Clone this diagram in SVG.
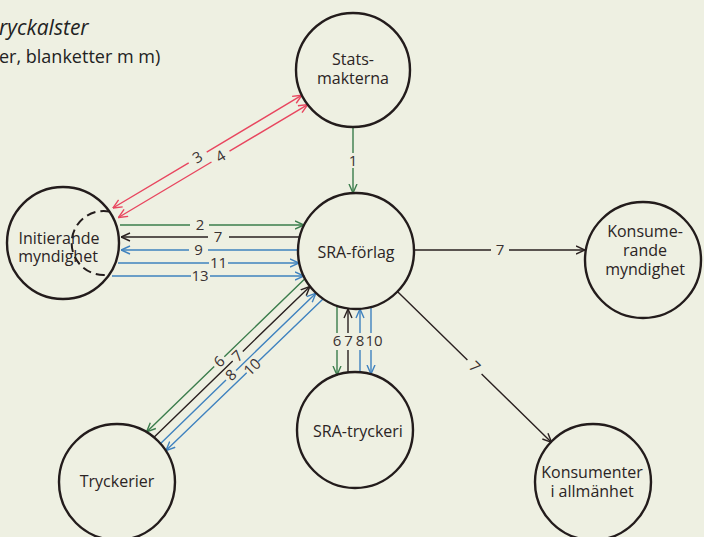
<svg xmlns="http://www.w3.org/2000/svg" width="704" height="537" viewBox="0 0 704 537">
<style>
  .bg { fill: #eef0e2; }
  .node { fill: none; stroke: #231c1c; stroke-width: 2.4; }
  .lbl { font-family: "Open Sans", "Noto Sans", sans-serif; font-size: 16px; fill: #2b2424; text-anchor: middle; }
  .num { font-family: "Open Sans", "Noto Sans", sans-serif; font-size: 15px; fill: #3a3232; text-anchor: middle; }
  .title { font-family: "Open Sans", "Noto Sans", sans-serif; fill: #222; }
  .c { fill: none; stroke-width: 1.4; }
  .green { stroke: #3b7d4c; }
  .black { stroke: #2a2020; }
  .blue { stroke: #3f82bf; }
  .red { stroke: #e8465f; }
  .dash { fill: none; stroke: #231c1c; stroke-width: 2; stroke-dasharray: 9 5; }
</style>
<defs>
  <marker id="ag" viewBox="0 0 10 10" refX="9.5" refY="5" markerWidth="10" markerHeight="10" markerUnits="userSpaceOnUse" orient="auto-start-reverse"><path d="M0.5,1 L9.5,5 L0.5,9" fill="none" stroke="#3b7d4c" stroke-width="1.4"/></marker>
  <marker id="ak" viewBox="0 0 10 10" refX="9.5" refY="5" markerWidth="10" markerHeight="10" markerUnits="userSpaceOnUse" orient="auto-start-reverse"><path d="M0.5,1 L9.5,5 L0.5,9" fill="none" stroke="#2a2020" stroke-width="1.4"/></marker>
  <marker id="ab" viewBox="0 0 10 10" refX="9.5" refY="5" markerWidth="10" markerHeight="10" markerUnits="userSpaceOnUse" orient="auto-start-reverse"><path d="M0.5,1 L9.5,5 L0.5,9" fill="none" stroke="#3f82bf" stroke-width="1.4"/></marker>
  <marker id="ar" viewBox="0 0 10 10" refX="9.5" refY="5" markerWidth="10" markerHeight="10" markerUnits="userSpaceOnUse" orient="auto-start-reverse"><path d="M0.5,1 L9.5,5 L0.5,9" fill="none" stroke="#e8465f" stroke-width="1.4"/></marker>
</defs>
<rect class="bg" x="0" y="0" width="704" height="537"/>

<g id="title">
  <text class="title" x="-1" y="35" font-size="21" font-style="italic" font-weight="500">ryckalster</text>
  <text class="title" x="-1" y="63" font-size="18" font-weight="500">er, blanketter m m)</text>
</g>

<g id="connectors">
  <path class="c green" d="M353,127 L353,153 M353,168 L353,193" marker-end="url(#ag)"/>
  <text class="num" x="353" y="166">1</text>
  <path class="c red" d="M112.9,208 L188.7,162.8 M206.7,152.1 L301.9,95.2" marker-start="url(#ar)" marker-end="url(#ar)"/>
  <path class="c red" d="M118.4,217.5 L211.5,162 M229.5,151.2 L307.7,104.6" marker-start="url(#ar)" marker-end="url(#ar)"/>
  <text class="num" transform="translate(197.7,157.4) rotate(-30.8)" x="0" y="5">3</text>
  <text class="num" transform="translate(220.5,156.6) rotate(-30.8)" x="0" y="5">4</text>
  <path class="c green" d="M120,225 L190,225 M209,225 L304,225" marker-end="url(#ag)"/>
  <text class="num" x="200" y="230">2</text>
  <path class="c black" d="M300,237 L229,237 M208,237 L121,237" marker-end="url(#ak)"/>
  <text class="num" x="218" y="242">7</text>
  <path class="c blue" d="M298,250 L208,250 M189,250 L121,250" marker-end="url(#ab)"/>
  <text class="num" x="198.5" y="255">9</text>
  <path class="c blue" d="M118,263 L209,263 M228,263 L299,263" marker-end="url(#ab)"/>
  <text class="num" x="218.5" y="268">11</text>
  <path class="c blue" d="M112,276 L191,276 M210,276 L304,276" marker-end="url(#ab)"/>
  <text class="num" x="200" y="281">13</text>
  <path class="c black" d="M414,250 L491,250 M509,250 L585,250" marker-end="url(#ak)"/>
  <text class="num" x="500" y="255">7</text>
  <path class="c black" d="M397.4,291.6 L467.4,360 M481.6,374 L551.6,442.4" marker-end="url(#ak)"/>
  <text class="num" transform="translate(474.5,367) rotate(44.4)" x="0" y="5">7</text>
  <path class="c green" d="M304.9,278.8 L224.3,356.8 M214.2,366.5 L146.6,431.9" marker-end="url(#ag)"/>
  <path class="c black" d="M154,437.2 L232.7,361.1 M242.8,351.4 L309.9,286.5" marker-end="url(#ak)"/>
  <path class="c blue" d="M160.6,443.4 L226,380.1 M236.1,370.4 L315.9,293.2" marker-end="url(#ab)"/>
  <path class="c blue" d="M323,298.9 L258.2,361.6 M246.7,372.7 L166,450.6" marker-end="url(#ab)"/>
  <text class="num" transform="translate(219.3,361.6) rotate(-44)" x="0" y="5">6</text>
  <text class="num" transform="translate(237.7,356.3) rotate(-44)" x="0" y="5">7</text>
  <text class="num" transform="translate(231.1,375.3) rotate(-44)" x="0" y="5">8</text>
  <text class="num" transform="translate(252.4,367.1) rotate(-44)" x="0" y="5">10</text>
  <path class="c green" d="M337,306 L337,333 M337,350 L337,375" marker-end="url(#ag)"/>
  <path class="c black" d="M348,372 L348,350 M348,333 L348,309" marker-end="url(#ak)"/>
  <path class="c blue" d="M360,372 L360,350 M360,333 L360,309" marker-end="url(#ab)"/>
  <path class="c blue" d="M371,307 L371,333 M371,350 L371,374" marker-end="url(#ab)"/>
  <text class="num" x="337" y="346">6</text>
  <text class="num" x="348.5" y="346">7</text>
  <text class="num" x="360" y="346">8</text>
  <text class="num" x="374" y="346">10</text>
</g>

<g id="statsmakterna">
  <circle class="node" cx="353" cy="70" r="57"/>
  <text class="lbl" x="353" y="65" font-size="15">Stats-</text>
  <text class="lbl" x="353" y="84" font-size="15">makterna</text>
</g>
<g id="initierande">
  <circle class="node" cx="63" cy="243" r="56"/>
  <path class="dash" d="M109.3,211.5 A32,32 0 1 0 109.3,274.5"/>
  <text class="lbl" x="59" y="244">Initierande</text>
  <text class="lbl" x="58" y="262">myndighet</text>
</g>
<g id="sra-forlag">
  <circle class="node" cx="356" cy="251" r="58"/>
  <text class="lbl" x="356" y="258" font-size="17">SRA-förlag</text>
</g>
<g id="konsumerande">
  <circle class="node" cx="643" cy="260" r="58"/>
  <text class="lbl" x="645" y="237">Konsume-</text>
  <text class="lbl" x="645" y="256">rande</text>
  <text class="lbl" x="645" y="275">myndighet</text>
</g>
<g id="sra-tryckeri">
  <circle class="node" cx="355" cy="430" r="58"/>
  <text class="lbl" x="358" y="437" font-size="17">SRA-tryckeri</text>
</g>
<g id="tryckerier">
  <circle class="node" cx="117" cy="482" r="58"/>
  <text class="lbl" x="117" y="487">Tryckerier</text>
</g>
<g id="konsumenter">
  <circle class="node" cx="593" cy="482" r="58"/>
  <text class="lbl" x="592" y="478" font-size="16.5">Konsumenter</text>
  <text class="lbl" x="592" y="497">i allmänhet</text>
</g>
</svg>
